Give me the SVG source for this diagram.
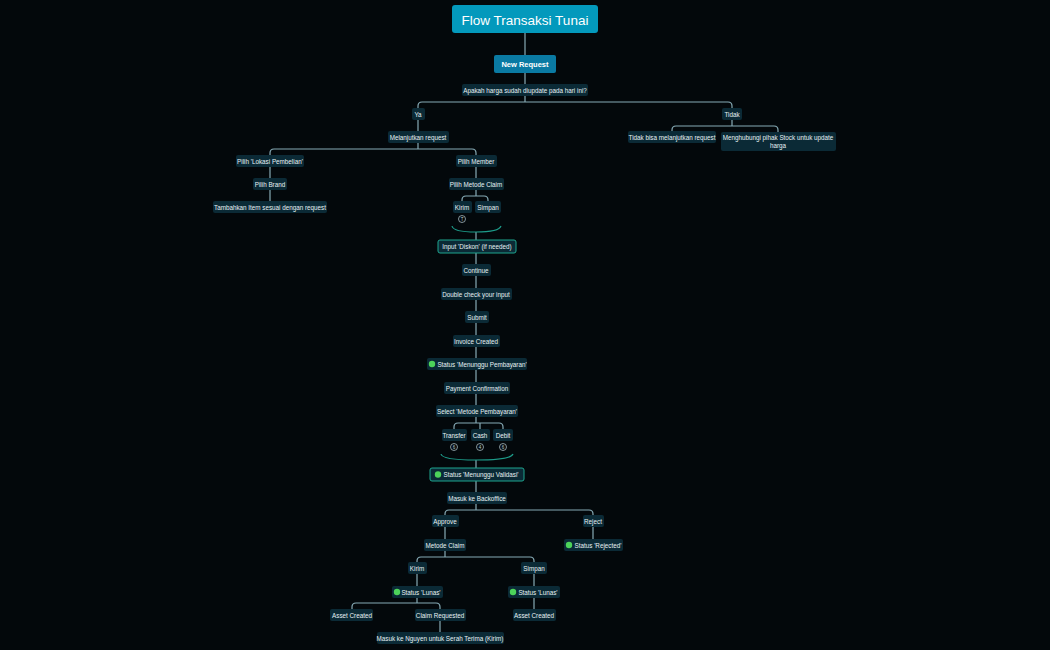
<svg xmlns="http://www.w3.org/2000/svg" width="1050" height="650" viewBox="0 0 1050 650">
<style>
.n rect{fill:#0b2a36;rx:2px}
.n text{fill:#e8f2f5;font-family:"Liberation Sans",Arial,sans-serif;font-size:6.3px;text-anchor:middle;dominant-baseline:central}
.o rect{stroke:#1fa58f;stroke-width:1}
.c path{fill:none;stroke:#86aab5;stroke-width:1.2}
.b path{fill:none;stroke:#1d9c8a;stroke-width:1.2}
.dot{fill:#4cd35a}
.m circle{fill:none;stroke:#b9cfd6;stroke-width:0.7}
.m text{fill:#b9cfd6;font-family:"Liberation Sans",Arial,sans-serif;font-size:4.5px;text-anchor:middle;dominant-baseline:central}
</style>
<rect width="1050" height="650" fill="#03080b"/>
<g class="c">
<path d="M525 33V84M525 96V102M422 102H728Q732 102 732 106V108M422 102Q418 102 418 106V108M418 120V131"/>
<path d="M418 143V149M274 149H472Q476 149 476 153V155M274 149Q270 149 270 153V155M270 167V178M270 190V201"/>
<path d="M476 167V178M476 190V196M466 196H484Q488 196 488 200V201M466 196Q462 196 462 200V201"/>
<path d="M476 232V240M476 253V264M476 276V288M476 300V311M476 323V335M476 347V358M476 370V382M476 394V405M476 417V423M458 423H499Q503 423 503 427V429M458 423Q454 423 454 427V429M480 423V429"/>
<path d="M476 460V468M476 480V492M476 504V510M449 510H589Q593 510 593 514V515M449 510Q445 510 445 514V515M445 527V539M593 527V539"/>
<path d="M445 551V557M421 557H530Q534 557 534 561V562M421 557Q417 557 417 561V562M417 574V586M534 574V586M534 598V609"/>
<path d="M417 598V603M356 603H436Q440 603 440 607V609M356 603Q352 603 352 607V609M440 621V632"/>
<path d="M732 120V126M676 126H774Q778 126 778 130V132M676 126Q672 126 672 130V131"/>
</g>
<g class="b">
<path d="M452 226Q453 232 476 232Q499 232 501 226"/>
<path d="M441 454Q442 460 476 460Q511 460 513 454"/>
</g>
<g id="title"><rect x="452" y="5" width="146" height="28" rx="3" fill="#0399bc"/><text x="525" y="20" fill="#fff" font-family="Liberation Sans,Arial,sans-serif" font-size="13.5" text-anchor="middle" dominant-baseline="central">Flow Transaksi Tunai</text></g>
<g id="newreq"><rect x="494" y="55" width="62" height="18" rx="2" fill="#0a7aa3"/><text x="525" y="64" fill="#fff" font-family="Liberation Sans,Arial,sans-serif" font-size="7.5" font-weight="bold" text-anchor="middle" dominant-baseline="central">New Request</text></g>
<g class="n" id="q"><rect x="462" y="84" width="126" height="12"/><text x="525" y="90">Apakah harga sudah diupdate pada hari ini?</text></g>
<g class="n" id="ya"><rect x="412" y="108" width="13" height="12"/><text x="418" y="114">Ya</text></g>
<g class="n" id="lanjut"><rect x="388" y="131" width="61" height="12"/><text x="418" y="137">Melanjutkan request</text></g>
<g class="n" id="lokasi"><rect x="236" y="155" width="68" height="12"/><text x="270" y="161">Pilih 'Lokasi Pembelian'</text></g>
<g class="n" id="brand"><rect x="253" y="178" width="34" height="12"/><text x="270" y="184">Pilih Brand</text></g>
<g class="n" id="item"><rect x="213" y="201" width="114" height="12"/><text x="270" y="207">Tambahkan Item sesuai dengan request</text></g>
<g class="n" id="member"><rect x="456" y="155" width="41" height="12"/><text x="476" y="161">Pilih Member</text></g>
<g class="n" id="metode"><rect x="449" y="178" width="55" height="12"/><text x="476" y="184">Pilih Metode Claim</text></g>
<g class="n" id="kirim1"><rect x="453" y="201" width="19" height="12"/><text x="462" y="207">Kirim</text></g>
<g class="n" id="simpan1"><rect x="475" y="201" width="26" height="12"/><text x="488" y="207">Simpan</text></g>
<g class="m"><circle cx="462" cy="219" r="3.5"/><text x="462" y="219">T</text></g>
<g class="n o" id="diskon"><rect x="438" y="240" width="78" height="13" rx="3"/><text x="477" y="246.5">Input 'Diskon' (if needed)</text></g>
<g class="n" id="cont"><rect x="462" y="264" width="29" height="12"/><text x="476" y="270">Continue</text></g>
<g class="n" id="dbl"><rect x="441" y="288" width="71" height="12"/><text x="476" y="294">Double check your input</text></g>
<g class="n" id="submit"><rect x="465" y="311" width="24" height="12"/><text x="477" y="317">Submit</text></g>
<g class="n" id="inv"><rect x="453" y="335" width="47" height="12"/><text x="476" y="341">Invoice Created</text></g>
<g class="n" id="st1"><rect x="427" y="358" width="100" height="12"/><circle class="dot" cx="432" cy="364" r="3.2"/><text x="482" y="364">Status 'Menunggu Pembayaran'</text></g>
<g class="n" id="pay"><rect x="444" y="382" width="66" height="12"/><text x="477" y="388">Payment Confirmation</text></g>
<g class="n" id="sel"><rect x="436" y="405" width="82" height="12"/><text x="477" y="411">Select 'Metode Pembayaran'</text></g>
<g class="n" id="tf"><rect x="442" y="429" width="25" height="12"/><text x="454" y="435">Transfer</text></g>
<g class="n" id="cash"><rect x="471" y="429" width="19" height="12"/><text x="480" y="435">Cash</text></g>
<g class="n" id="debit"><rect x="493" y="429" width="20" height="12"/><text x="503" y="435">Debit</text></g>
<g class="m"><circle cx="454" cy="447" r="3.5"/><text x="454" y="447">6</text><circle cx="480" cy="447" r="3.5"/><text x="480" y="447">4</text><circle cx="503" cy="447" r="3.5"/><text x="503" y="447">6</text></g>
<g class="n o" id="st2"><rect x="430" y="468" width="94" height="13" rx="3"/><circle class="dot" cx="438" cy="474.5" r="3.2"/><text x="481" y="474.5">Status 'Menunggu Validasi'</text></g>
<g class="n" id="bo"><rect x="447" y="492" width="60" height="12"/><text x="477" y="498">Masuk ke Backoffice</text></g>
<g class="n" id="appr"><rect x="432" y="515" width="27" height="12"/><text x="445" y="521">Approve</text></g>
<g class="n" id="rej"><rect x="583" y="515" width="21" height="12"/><text x="593" y="521">Reject</text></g>
<g class="n" id="mc"><rect x="424" y="539" width="42" height="12"/><text x="445" y="545">Metode Claim</text></g>
<g class="n" id="strej"><rect x="564" y="539" width="59" height="12"/><circle class="dot" cx="569" cy="545" r="3.2"/><text x="598" y="545">Status 'Rejected'</text></g>
<g class="n" id="kirim2"><rect x="408" y="562" width="19" height="12"/><text x="417" y="568">Kirim</text></g>
<g class="n" id="simpan2"><rect x="521" y="562" width="26" height="12"/><text x="534" y="568">Simpan</text></g>
<g class="n" id="lunas1"><rect x="392" y="586" width="51" height="12"/><circle class="dot" cx="397" cy="592" r="3.2"/><text x="421" y="592">Status 'Lunas'</text></g>
<g class="n" id="lunas2"><rect x="508" y="586" width="52" height="12"/><circle class="dot" cx="513" cy="592" r="3.2"/><text x="538" y="592">Status 'Lunas'</text></g>
<g class="n" id="ac1"><rect x="330" y="609" width="43" height="12"/><text x="352" y="615">Asset Created</text></g>
<g class="n" id="cr"><rect x="415" y="609" width="51" height="12"/><text x="440" y="615">Claim Requested</text></g>
<g class="n" id="ac2"><rect x="513" y="609" width="43" height="12"/><text x="534" y="615">Asset Created</text></g>
<g class="n" id="ng"><rect x="377" y="632" width="127" height="12"/><text x="440" y="638">Masuk ke Nguyen untuk Serah Terima (Kirim)</text></g>
<g class="n" id="tidak"><rect x="722" y="108" width="20" height="12"/><text x="732" y="114">Tidak</text></g>
<g class="n" id="tb"><rect x="628" y="131" width="88" height="12"/><text x="672" y="137">Tidak bisa melanjutkan request</text></g>
<g class="n" id="hub"><rect x="721" y="132" width="115" height="19"/><text x="778" y="137.5">Menghubungi pihak Stock untuk update</text><text x="778" y="145">harga</text></g>
</svg>
